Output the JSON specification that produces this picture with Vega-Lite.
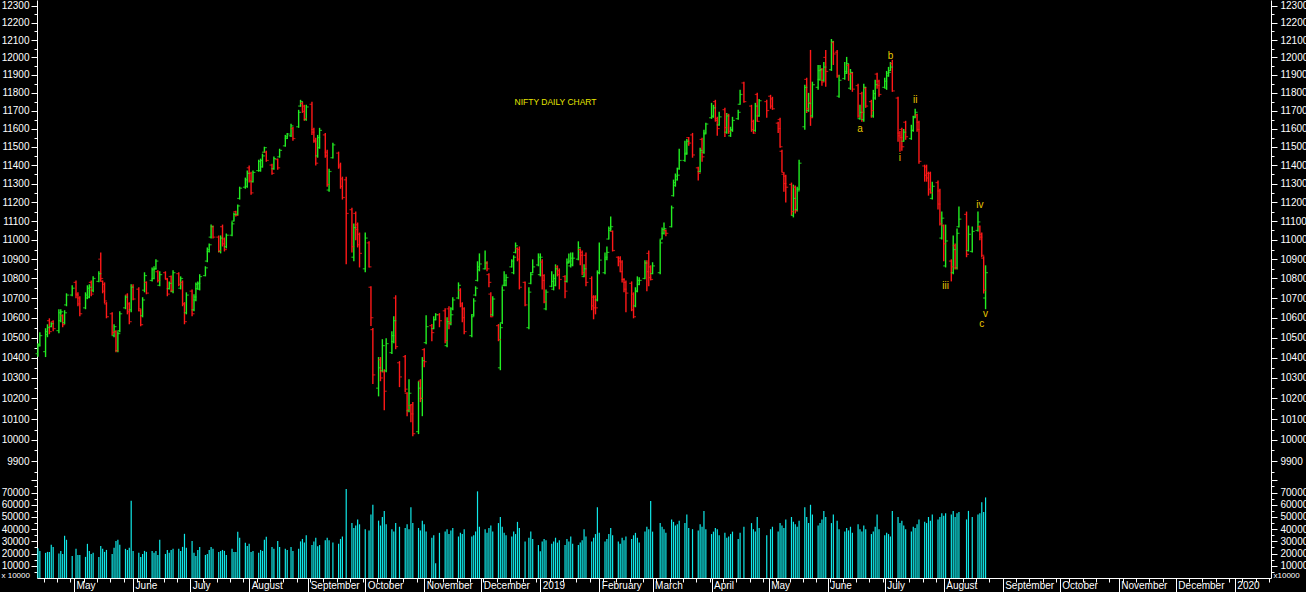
{
"$schema":"https://vega.github.io/schema/vega-lite/v6.json",
"background":"#000000",
"padding":{"left":1,"top":0,"right":0,"bottom":0},
"spacing":0,
"bounds":"flush",
"config":{"view":{"stroke":null},"font":"Liberation Sans","axis":{"labelFont":"Liberation Sans","labelFontSize":10,"labelColor":"#ffffff","domainColor":"#ffffff","tickColor":"#ffffff","grid":false,"labelOverlap":false,"labelFlush":false}},
"datasets":{
"px":[
{"d":"2018-04-12","o":10420,"h":10472,"l":10405,"c":10458,"v":24400},
{"d":"2018-04-13","o":10465,"h":10527,"l":10457,"c":10510,"v":22200},
{"d":"2018-04-16","o":10430,"h":10547,"l":10403,"c":10530,"v":20600},
{"d":"2018-04-17","o":10515,"h":10567,"l":10502,"c":10550,"v":21400},
{"d":"2018-04-18","o":10585,"h":10597,"l":10517,"c":10530,"v":21400},
{"d":"2018-04-19","o":10555,"h":10577,"l":10552,"c":10570,"v":27200},
{"d":"2018-04-20","o":10580,"h":10587,"l":10532,"c":10545,"v":25500},
{"d":"2018-04-23","o":10535,"h":10643,"l":10522,"c":10625,"v":20000},
{"d":"2018-04-24","o":10585,"h":10643,"l":10577,"c":10630,"v":22200},
{"d":"2018-04-25","o":10610,"h":10617,"l":10552,"c":10565,"v":19700},
{"d":"2018-04-26","o":10575,"h":10638,"l":10567,"c":10625,"v":34600},
{"d":"2018-04-27","o":10665,"h":10724,"l":10658,"c":10715,"v":31300},
{"d":"2018-04-30","o":10715,"h":10765,"l":10709,"c":10750,"v":18100},
{"d":"2018-05-02","o":10780,"h":10790,"l":10699,"c":10715,"v":23900},
{"d":"2018-05-03","o":10720,"h":10729,"l":10658,"c":10670,"v":18900},
{"d":"2018-05-04","o":10700,"h":10709,"l":10607,"c":10620,"v":18900},
{"d":"2018-05-07","o":10650,"h":10729,"l":10643,"c":10715,"v":17300},
{"d":"2018-05-08","o":10700,"h":10765,"l":10694,"c":10750,"v":28000},
{"d":"2018-05-09","o":10705,"h":10770,"l":10699,"c":10755,"v":22200},
{"d":"2018-05-10","o":10780,"h":10790,"l":10709,"c":10720,"v":19700},
{"d":"2018-05-11","o":10740,"h":10811,"l":10729,"c":10800,"v":20600},
{"d":"2018-05-14","o":10785,"h":10837,"l":10781,"c":10825,"v":17300},
{"d":"2018-05-15","o":10900,"h":10935,"l":10785,"c":10800,"v":26300},
{"d":"2018-05-16","o":10785,"h":10790,"l":10724,"c":10735,"v":23900},
{"d":"2018-05-17","o":10770,"h":10780,"l":10673,"c":10685,"v":21400},
{"d":"2018-05-18","o":10670,"h":10679,"l":10597,"c":10605,"v":23000},
{"d":"2018-05-21","o":10620,"h":10628,"l":10512,"c":10525,"v":19700},
{"d":"2018-05-22","o":10510,"h":10567,"l":10502,"c":10555,"v":24700},
{"d":"2018-05-23","o":10530,"h":10537,"l":10427,"c":10435,"v":30400},
{"d":"2018-05-24","o":10435,"h":10532,"l":10427,"c":10520,"v":31300},
{"d":"2018-05-25","o":10535,"h":10633,"l":10527,"c":10620,"v":27200},
{"d":"2018-05-28","o":10650,"h":10714,"l":10643,"c":10705,"v":23900},
{"d":"2018-05-29","o":10715,"h":10724,"l":10617,"c":10630,"v":23000},
{"d":"2018-05-30","o":10670,"h":10679,"l":10567,"c":10580,"v":24700},
{"d":"2018-05-31","o":10640,"h":10770,"l":10628,"c":10755,"v":63400},
{"d":"2018-06-01","o":10760,"h":10770,"l":10689,"c":10695,"v":22200},
{"d":"2018-06-04","o":10745,"h":10755,"l":10633,"c":10645,"v":20600},
{"d":"2018-06-05","o":10635,"h":10643,"l":10557,"c":10565,"v":17300},
{"d":"2018-06-06","o":10610,"h":10704,"l":10602,"c":10690,"v":19700},
{"d":"2018-06-07","o":10740,"h":10832,"l":10729,"c":10815,"v":22200},
{"d":"2018-06-08","o":10780,"h":10785,"l":10719,"c":10725,"v":21400},
{"d":"2018-06-11","o":10790,"h":10857,"l":10785,"c":10845,"v":22200},
{"d":"2018-06-12","o":10800,"h":10863,"l":10796,"c":10850,"v":20600},
{"d":"2018-06-13","o":10850,"h":10899,"l":10847,"c":10890,"v":22200},
{"d":"2018-06-14","o":10835,"h":10842,"l":10780,"c":10790,"v":18900},
{"d":"2018-06-15","o":10765,"h":10837,"l":10760,"c":10820,"v":31300},
{"d":"2018-06-18","o":10830,"h":10837,"l":10796,"c":10800,"v":19700},
{"d":"2018-06-19","o":10795,"h":10801,"l":10709,"c":10720,"v":23000},
{"d":"2018-06-20","o":10748,"h":10785,"l":10744,"c":10775,"v":20600},
{"d":"2018-06-21","o":10810,"h":10816,"l":10729,"c":10740,"v":23000},
{"d":"2018-06-22","o":10735,"h":10842,"l":10724,"c":10830,"v":23900},
{"d":"2018-06-25","o":10825,"h":10832,"l":10760,"c":10770,"v":23900},
{"d":"2018-06-26","o":10750,"h":10811,"l":10744,"c":10800,"v":22200},
{"d":"2018-06-27","o":10780,"h":10790,"l":10658,"c":10670,"v":25500},
{"d":"2018-06-28","o":10670,"h":10679,"l":10567,"c":10580,"v":36200},
{"d":"2018-06-29","o":10625,"h":10729,"l":10617,"c":10715,"v":24700},
{"d":"2018-07-02","o":10735,"h":10744,"l":10607,"c":10620,"v":30400},
{"d":"2018-07-03","o":10640,"h":10719,"l":10633,"c":10705,"v":20600},
{"d":"2018-07-04","o":10690,"h":10780,"l":10684,"c":10770,"v":18100},
{"d":"2018-07-05","o":10748,"h":10785,"l":10744,"c":10775,"v":23000},
{"d":"2018-07-06","o":10745,"h":10822,"l":10739,"c":10810,"v":25500},
{"d":"2018-07-09","o":10815,"h":10863,"l":10811,"c":10855,"v":18900},
{"d":"2018-07-10","o":10890,"h":10961,"l":10884,"c":10950,"v":19700},
{"d":"2018-07-11","o":10940,"h":10982,"l":10935,"c":10975,"v":23000},
{"d":"2018-07-12","o":11015,"h":11081,"l":11008,"c":11070,"v":25500},
{"d":"2018-07-13","o":11070,"h":11076,"l":11008,"c":11015,"v":23900},
{"d":"2018-07-16","o":11015,"h":11024,"l":10935,"c":10945,"v":21400},
{"d":"2018-07-17","o":10940,"h":11024,"l":10930,"c":11010,"v":22200},
{"d":"2018-07-18","o":11070,"h":11081,"l":10966,"c":10980,"v":23000},
{"d":"2018-07-19","o":11005,"h":11013,"l":10940,"c":10950,"v":22200},
{"d":"2018-07-20","o":10965,"h":11034,"l":10956,"c":11025,"v":18900},
{"d":"2018-07-23","o":11025,"h":11097,"l":11019,"c":11085,"v":23900},
{"d":"2018-07-24","o":11100,"h":11145,"l":11097,"c":11135,"v":21400},
{"d":"2018-07-25","o":11150,"h":11155,"l":11124,"c":11130,"v":21400},
{"d":"2018-07-26","o":11135,"h":11187,"l":11129,"c":11180,"v":37900},
{"d":"2018-07-27","o":11220,"h":11283,"l":11214,"c":11275,"v":32900},
{"d":"2018-07-30","o":11280,"h":11332,"l":11272,"c":11320,"v":28800},
{"d":"2018-07-31","o":11285,"h":11370,"l":11278,"c":11355,"v":26300},
{"d":"2018-08-01","o":11385,"h":11397,"l":11305,"c":11315,"v":28000},
{"d":"2018-08-02","o":11355,"h":11364,"l":11240,"c":11250,"v":21400},
{"d":"2018-08-03","o":11310,"h":11370,"l":11305,"c":11360,"v":22200},
{"d":"2018-08-06","o":11370,"h":11429,"l":11364,"c":11420,"v":20600},
{"d":"2018-08-07","o":11370,"h":11435,"l":11364,"c":11425,"v":23000},
{"d":"2018-08-08","o":11390,"h":11462,"l":11386,"c":11450,"v":22200},
{"d":"2018-08-09","o":11470,"h":11500,"l":11467,"c":11495,"v":31300},
{"d":"2018-08-10","o":11470,"h":11478,"l":11418,"c":11425,"v":33700},
{"d":"2018-08-13","o":11400,"h":11407,"l":11348,"c":11355,"v":25500},
{"d":"2018-08-14","o":11380,"h":11446,"l":11375,"c":11435,"v":23900},
{"d":"2018-08-16","o":11430,"h":11435,"l":11375,"c":11385,"v":30400},
{"d":"2018-08-17","o":11445,"h":11489,"l":11440,"c":11480,"v":25500},
{"d":"2018-08-20","o":11505,"h":11565,"l":11500,"c":11555,"v":23900},
{"d":"2018-08-21","o":11545,"h":11576,"l":11543,"c":11570,"v":23000},
{"d":"2018-08-23","o":11560,"h":11627,"l":11554,"c":11615,"v":25500},
{"d":"2018-08-24","o":11600,"h":11610,"l":11533,"c":11545,"v":22200},
{"d":"2018-08-27","o":11610,"h":11704,"l":11604,"c":11690,"v":24000},
{"d":"2018-08-28","o":11725,"h":11760,"l":11721,"c":11750,"v":30000},
{"d":"2018-08-29","o":11740,"h":11749,"l":11687,"c":11695,"v":32000},
{"d":"2018-08-30","o":11725,"h":11732,"l":11643,"c":11655,"v":29000},
{"d":"2018-08-31","o":11650,"h":11732,"l":11643,"c":11720,"v":35000},
{"d":"2018-09-03","o":11735,"h":11749,"l":11565,"c":11580,"v":27000},
{"d":"2018-09-04","o":11595,"h":11604,"l":11522,"c":11530,"v":30000},
{"d":"2018-09-05","o":11535,"h":11549,"l":11397,"c":11410,"v":33000},
{"d":"2018-09-06","o":11450,"h":11565,"l":11440,"c":11550,"v":26000},
{"d":"2018-09-07","o":11495,"h":11604,"l":11489,"c":11590,"v":27000},
{"d":"2018-09-10","o":11565,"h":11576,"l":11440,"c":11450,"v":31000},
{"d":"2018-09-11","o":11470,"h":11484,"l":11283,"c":11295,"v":33000},
{"d":"2018-09-12","o":11265,"h":11380,"l":11256,"c":11365,"v":31000},
{"d":"2018-09-14","o":11440,"h":11522,"l":11435,"c":11510,"v":29000},
{"d":"2018-09-17","o":11465,"h":11473,"l":11380,"c":11390,"v":28000},
{"d":"2018-09-18","o":11400,"h":11413,"l":11272,"c":11285,"v":32000},
{"d":"2018-09-19","o":11325,"h":11337,"l":11214,"c":11225,"v":34000},
{"d":"2018-09-21","o":11320,"h":11337,"l":10873,"c":11140,"v":73000},
{"d":"2018-09-24","o":11160,"h":11171,"l":10935,"c":10965,"v":45000},
{"d":"2018-09-25","o":10910,"h":11087,"l":10889,"c":11065,"v":41000},
{"d":"2018-09-26","o":11140,"h":11150,"l":10998,"c":11055,"v":43000},
{"d":"2018-09-27","o":11080,"h":11092,"l":10961,"c":10975,"v":48000},
{"d":"2018-09-28","o":11030,"h":11039,"l":10857,"c":10930,"v":44000},
{"d":"2018-10-01","o":10850,"h":11039,"l":10832,"c":11010,"v":40000},
{"d":"2018-10-03","o":10985,"h":10993,"l":10857,"c":10860,"v":39000},
{"d":"2018-10-04","o":10755,"h":10760,"l":10558,"c":10600,"v":52000},
{"d":"2018-10-05","o":10540,"h":10548,"l":10270,"c":10315,"v":60000},
{"d":"2018-10-08","o":10250,"h":10403,"l":10210,"c":10350,"v":47000},
{"d":"2018-10-09","o":10390,"h":10403,"l":10284,"c":10300,"v":43000},
{"d":"2018-10-10","o":10335,"h":10492,"l":10328,"c":10460,"v":50000},
{"d":"2018-10-11","o":10330,"h":10343,"l":10143,"c":10235,"v":55000},
{"d":"2018-10-12","o":10335,"h":10497,"l":10328,"c":10470,"v":44000},
{"d":"2018-10-15","o":10425,"h":10532,"l":10418,"c":10510,"v":40000},
{"d":"2018-10-16","o":10480,"h":10607,"l":10472,"c":10585,"v":38000},
{"d":"2018-10-17","o":10700,"h":10714,"l":10442,"c":10455,"v":45000},
{"d":"2018-10-19","o":10375,"h":10383,"l":10255,"c":10305,"v":42000},
{"d":"2018-10-22","o":10405,"h":10413,"l":10230,"c":10245,"v":41000},
{"d":"2018-10-23","o":10225,"h":10230,"l":10114,"c":10145,"v":44000},
{"d":"2018-10-24","o":10140,"h":10294,"l":10133,"c":10225,"v":40000},
{"d":"2018-10-25","o":10165,"h":10172,"l":10085,"c":10125,"v":58000},
{"d":"2018-10-26","o":10170,"h":10182,"l":10018,"c":10030,"v":45000},
{"d":"2018-10-29","o":10040,"h":10284,"l":10028,"c":10250,"v":41000},
{"d":"2018-10-30","o":10285,"h":10294,"l":10182,"c":10200,"v":39000},
{"d":"2018-10-31","o":10200,"h":10403,"l":10114,"c":10385,"v":47000},
{"d":"2018-11-01","o":10440,"h":10447,"l":10353,"c":10380,"v":44000},
{"d":"2018-11-02","o":10475,"h":10612,"l":10467,"c":10555,"v":38000},
{"d":"2018-11-05","o":10560,"h":10568,"l":10482,"c":10525,"v":33000},
{"d":"2018-11-06","o":10545,"h":10607,"l":10542,"c":10590,"v":35000},
{"d":"2018-11-07","o":10590,"h":10623,"l":10587,"c":10615,"v":12000},
{"d":"2018-11-09","o":10615,"h":10623,"l":10552,"c":10585,"v":37000},
{"d":"2018-11-12","o":10635,"h":10648,"l":10472,"c":10485,"v":38000},
{"d":"2018-11-13","o":10460,"h":10602,"l":10452,"c":10580,"v":40000},
{"d":"2018-11-14","o":10645,"h":10658,"l":10542,"c":10575,"v":36000},
{"d":"2018-11-15","o":10570,"h":10653,"l":10562,"c":10615,"v":39000},
{"d":"2018-11-16","o":10645,"h":10704,"l":10638,"c":10690,"v":41000},
{"d":"2018-11-19","o":10700,"h":10780,"l":10694,"c":10765,"v":34000},
{"d":"2018-11-20","o":10740,"h":10750,"l":10653,"c":10660,"v":37000},
{"d":"2018-11-21","o":10670,"h":10679,"l":10577,"c":10600,"v":36000},
{"d":"2018-11-22","o":10645,"h":10653,"l":10517,"c":10530,"v":40000},
{"d":"2018-11-26","o":10510,"h":10617,"l":10502,"c":10605,"v":34000},
{"d":"2018-11-27","o":10615,"h":10699,"l":10607,"c":10685,"v":35000},
{"d":"2018-11-28","o":10715,"h":10760,"l":10709,"c":10750,"v":38000},
{"d":"2018-11-29","o":10790,"h":10889,"l":10785,"c":10860,"v":71000},
{"d":"2018-11-30","o":10845,"h":10930,"l":10837,"c":10875,"v":42000},
{"d":"2018-12-03","o":10850,"h":10945,"l":10847,"c":10880,"v":40000},
{"d":"2018-12-04","o":10880,"h":10889,"l":10837,"c":10850,"v":37000},
{"d":"2018-12-05","o":10820,"h":10827,"l":10755,"c":10780,"v":41000},
{"d":"2018-12-06","o":10720,"h":10729,"l":10602,"c":10605,"v":43000},
{"d":"2018-12-07","o":10615,"h":10709,"l":10607,"c":10695,"v":38000},
{"d":"2018-12-10","o":10560,"h":10568,"l":10482,"c":10490,"v":45000},
{"d":"2018-12-11","o":10350,"h":10572,"l":10338,"c":10550,"v":50000},
{"d":"2018-12-12","o":10575,"h":10760,"l":10568,"c":10740,"v":42000},
{"d":"2018-12-13","o":10765,"h":10837,"l":10760,"c":10790,"v":37000},
{"d":"2018-12-14","o":10765,"h":10822,"l":10760,"c":10805,"v":35000},
{"d":"2018-12-17","o":10860,"h":10899,"l":10857,"c":10890,"v":34000},
{"d":"2018-12-18","o":10830,"h":10920,"l":10822,"c":10910,"v":38000},
{"d":"2018-12-19","o":10935,"h":10987,"l":10930,"c":10970,"v":36000},
{"d":"2018-12-20","o":10955,"h":10961,"l":10889,"c":10900,"v":46000},
{"d":"2018-12-21","o":10950,"h":10966,"l":10744,"c":10755,"v":41000},
{"d":"2018-12-24","o":10780,"h":10785,"l":10658,"c":10665,"v":30000},
{"d":"2018-12-26","o":10550,"h":10755,"l":10542,"c":10730,"v":33000},
{"d":"2018-12-27","o":10775,"h":10832,"l":10770,"c":10820,"v":38000},
{"d":"2018-12-28","o":10830,"h":10899,"l":10827,"c":10860,"v":32000},
{"d":"2018-12-31","o":10870,"h":10930,"l":10863,"c":10910,"v":27000},
{"d":"2019-01-01","o":10820,"h":10930,"l":10811,"c":10910,"v":22000},
{"d":"2019-01-02","o":10885,"h":10899,"l":10744,"c":10790,"v":30000},
{"d":"2019-01-03","o":10815,"h":10822,"l":10673,"c":10680,"v":32000},
{"d":"2019-01-04","o":10645,"h":10744,"l":10638,"c":10730,"v":31000},
{"d":"2019-01-07","o":10760,"h":10837,"l":10755,"c":10785,"v":28000},
{"d":"2019-01-08","o":10745,"h":10822,"l":10739,"c":10800,"v":30000},
{"d":"2019-01-09","o":10765,"h":10873,"l":10760,"c":10850,"v":33000},
{"d":"2019-01-10","o":10860,"h":10868,"l":10811,"c":10820,"v":29000},
{"d":"2019-01-11","o":10840,"h":10852,"l":10744,"c":10795,"v":31000},
{"d":"2019-01-14","o":10810,"h":10817,"l":10699,"c":10735,"v":27000},
{"d":"2019-01-15","o":10785,"h":10904,"l":10780,"c":10885,"v":32000},
{"d":"2019-01-16","o":10880,"h":10930,"l":10878,"c":10890,"v":30000},
{"d":"2019-01-17","o":10865,"h":10935,"l":10857,"c":10905,"v":34000},
{"d":"2019-01-18","o":10870,"h":10935,"l":10863,"c":10905,"v":28000},
{"d":"2019-01-21","o":10900,"h":10993,"l":10894,"c":10960,"v":27000},
{"d":"2019-01-22","o":10950,"h":10956,"l":10868,"c":10920,"v":29000},
{"d":"2019-01-23","o":10935,"h":10945,"l":10817,"c":10830,"v":31000},
{"d":"2019-01-24","o":10810,"h":10873,"l":10806,"c":10850,"v":40000},
{"d":"2019-01-25","o":10920,"h":10935,"l":10760,"c":10780,"v":34000},
{"d":"2019-01-28","o":10800,"h":10811,"l":10638,"c":10660,"v":30000},
{"d":"2019-01-29","o":10705,"h":10714,"l":10592,"c":10650,"v":33000},
{"d":"2019-01-30","o":10705,"h":10714,"l":10617,"c":10650,"v":36000},
{"d":"2019-01-31","o":10690,"h":10842,"l":10683,"c":10830,"v":58000},
{"d":"2019-02-01","o":10830,"h":10987,"l":10822,"c":10895,"v":37000},
{"d":"2019-02-04","o":10830,"h":10935,"l":10822,"c":10910,"v":30000},
{"d":"2019-02-05","o":10900,"h":10966,"l":10894,"c":10935,"v":32000},
{"d":"2019-02-06","o":11005,"h":11071,"l":11003,"c":11060,"v":36000},
{"d":"2019-02-07","o":11050,"h":11124,"l":11045,"c":11070,"v":41000},
{"d":"2019-02-08","o":11045,"h":11050,"l":10940,"c":10945,"v":35000},
{"d":"2019-02-11","o":10910,"h":10915,"l":10863,"c":10890,"v":30000},
{"d":"2019-02-12","o":10905,"h":10915,"l":10832,"c":10835,"v":28000},
{"d":"2019-02-13","o":10885,"h":10894,"l":10780,"c":10795,"v":33000},
{"d":"2019-02-14","o":10795,"h":10801,"l":10729,"c":10745,"v":31000},
{"d":"2019-02-15","o":10780,"h":10790,"l":10628,"c":10725,"v":34000},
{"d":"2019-02-18","o":10775,"h":10785,"l":10633,"c":10640,"v":32000},
{"d":"2019-02-19","o":10720,"h":10729,"l":10597,"c":10605,"v":35000},
{"d":"2019-02-20","o":10660,"h":10755,"l":10653,"c":10735,"v":37000},
{"d":"2019-02-21","o":10735,"h":10811,"l":10729,"c":10790,"v":33000},
{"d":"2019-02-22","o":10770,"h":10806,"l":10765,"c":10790,"v":29000},
{"d":"2019-02-25","o":10800,"h":10894,"l":10796,"c":10880,"v":38000},
{"d":"2019-02-26","o":10880,"h":10894,"l":10734,"c":10835,"v":42000},
{"d":"2019-02-27","o":10930,"h":10945,"l":10760,"c":10805,"v":40000},
{"d":"2019-02-28","o":10860,"h":10868,"l":10790,"c":10795,"v":63000},
{"d":"2019-03-01","o":10825,"h":10884,"l":10822,"c":10865,"v":38000},
{"d":"2019-03-05","o":10830,"h":11003,"l":10822,"c":10985,"v":45000},
{"d":"2019-03-06","o":11005,"h":11066,"l":11003,"c":11055,"v":42000},
{"d":"2019-03-07","o":11035,"h":11092,"l":11029,"c":11060,"v":40000},
{"d":"2019-03-08","o":11050,"h":11055,"l":11019,"c":11035,"v":37000},
{"d":"2019-03-11","o":11070,"h":11182,"l":11066,"c":11170,"v":48000},
{"d":"2019-03-12","o":11235,"h":11321,"l":11230,"c":11305,"v":46000},
{"d":"2019-03-13","o":11290,"h":11354,"l":11283,"c":11340,"v":43000},
{"d":"2019-03-14","o":11320,"h":11386,"l":11316,"c":11345,"v":44000},
{"d":"2019-03-15","o":11380,"h":11489,"l":11375,"c":11425,"v":47000},
{"d":"2019-03-18","o":11425,"h":11533,"l":11418,"c":11465,"v":45000},
{"d":"2019-03-19","o":11460,"h":11543,"l":11456,"c":11530,"v":52000},
{"d":"2019-03-20","o":11550,"h":11554,"l":11505,"c":11520,"v":41000},
{"d":"2019-03-22","o":11565,"h":11576,"l":11440,"c":11455,"v":40000},
{"d":"2019-03-25","o":11385,"h":11391,"l":11316,"c":11355,"v":39000},
{"d":"2019-03-26","o":11365,"h":11494,"l":11359,"c":11480,"v":44000},
{"d":"2019-03-27","o":11540,"h":11549,"l":11418,"c":11445,"v":42000},
{"d":"2019-03-28","o":11470,"h":11593,"l":11462,"c":11570,"v":55000},
{"d":"2019-03-29","o":11575,"h":11632,"l":11571,"c":11625,"v":40000},
{"d":"2019-04-01","o":11660,"h":11743,"l":11654,"c":11670,"v":36000},
{"d":"2019-04-02","o":11665,"h":11732,"l":11660,"c":11715,"v":38000},
{"d":"2019-04-03","o":11750,"h":11760,"l":11638,"c":11645,"v":41000},
{"d":"2019-04-04","o":11655,"h":11665,"l":11560,"c":11600,"v":40000},
{"d":"2019-04-05","o":11620,"h":11693,"l":11615,"c":11665,"v":35000},
{"d":"2019-04-08","o":11705,"h":11715,"l":11554,"c":11605,"v":37000},
{"d":"2019-04-09","o":11580,"h":11687,"l":11571,"c":11670,"v":33000},
{"d":"2019-04-10","o":11675,"h":11682,"l":11571,"c":11585,"v":34000},
{"d":"2019-04-11","o":11560,"h":11610,"l":11554,"c":11595,"v":36000},
{"d":"2019-04-12","o":11590,"h":11665,"l":11582,"c":11645,"v":38000},
{"d":"2019-04-15","o":11655,"h":11704,"l":11649,"c":11690,"v":32000},
{"d":"2019-04-16","o":11735,"h":11816,"l":11732,"c":11790,"v":37000},
{"d":"2019-04-18","o":11855,"h":11862,"l":11743,"c":11750,"v":42000},
{"d":"2019-04-22","o":11725,"h":11732,"l":11582,"c":11595,"v":45000},
{"d":"2019-04-23","o":11640,"h":11649,"l":11571,"c":11575,"v":40000},
{"d":"2019-04-24","o":11590,"h":11743,"l":11582,"c":11725,"v":38000},
{"d":"2019-04-25","o":11790,"h":11799,"l":11638,"c":11640,"v":50000},
{"d":"2019-04-26","o":11670,"h":11765,"l":11665,"c":11755,"v":41000},
{"d":"2019-04-30","o":11750,"h":11760,"l":11660,"c":11700,"v":35000},
{"d":"2019-05-02","o":11780,"h":11788,"l":11710,"c":11725,"v":40000},
{"d":"2019-05-03","o":11765,"h":11777,"l":11704,"c":11710,"v":42000},
{"d":"2019-05-06","o":11630,"h":11638,"l":11576,"c":11600,"v":38000},
{"d":"2019-05-07","o":11650,"h":11660,"l":11494,"c":11500,"v":45000},
{"d":"2019-05-08","o":11475,"h":11484,"l":11359,"c":11360,"v":43000},
{"d":"2019-05-09","o":11350,"h":11359,"l":11256,"c":11300,"v":41000},
{"d":"2019-05-10","o":11340,"h":11348,"l":11198,"c":11280,"v":48000},
{"d":"2019-05-13","o":11295,"h":11305,"l":11129,"c":11150,"v":50000},
{"d":"2019-05-14","o":11130,"h":11294,"l":11119,"c":11220,"v":46000},
{"d":"2019-05-15","o":11280,"h":11289,"l":11140,"c":11155,"v":44000},
{"d":"2019-05-16","o":11160,"h":11283,"l":11150,"c":11260,"v":42000},
{"d":"2019-05-17","o":11270,"h":11429,"l":11262,"c":11410,"v":47000},
{"d":"2019-05-20","o":11610,"h":11845,"l":11593,"c":11830,"v":58000},
{"d":"2019-05-21","o":11875,"h":11884,"l":11687,"c":11710,"v":50000},
{"d":"2019-05-22","o":11700,"h":11799,"l":11693,"c":11740,"v":45000},
{"d":"2019-05-23","o":11745,"h":12043,"l":11615,"c":11660,"v":60000},
{"d":"2019-05-24","o":11670,"h":11862,"l":11660,"c":11845,"v":52000},
{"d":"2019-05-27","o":11830,"h":11957,"l":11816,"c":11925,"v":43000},
{"d":"2019-05-28","o":11875,"h":11957,"l":11867,"c":11930,"v":45000},
{"d":"2019-05-29","o":11930,"h":11940,"l":11839,"c":11860,"v":48000},
{"d":"2019-05-30","o":11870,"h":11974,"l":11862,"c":11945,"v":55000},
{"d":"2019-05-31","o":12000,"h":12043,"l":11833,"c":11920,"v":50000},
{"d":"2019-06-03","o":11930,"h":12106,"l":11923,"c":12090,"v":45000},
{"d":"2019-06-04","o":12085,"h":12095,"l":11957,"c":12020,"v":52000},
{"d":"2019-06-06","o":12030,"h":12043,"l":11884,"c":11895,"v":47000},
{"d":"2019-06-07","o":11780,"h":11901,"l":11771,"c":11870,"v":40000},
{"d":"2019-06-10","o":11880,"h":11974,"l":11873,"c":11920,"v":38000},
{"d":"2019-06-11","o":11910,"h":12003,"l":11906,"c":11965,"v":41000},
{"d":"2019-06-12","o":11955,"h":11963,"l":11867,"c":11905,"v":39000},
{"d":"2019-06-13","o":11825,"h":11934,"l":11816,"c":11915,"v":42000},
{"d":"2019-06-14","o":11910,"h":11917,"l":11805,"c":11820,"v":37000},
{"d":"2019-06-17","o":11840,"h":11850,"l":11660,"c":11670,"v":44000},
{"d":"2019-06-18","o":11655,"h":11732,"l":11649,"c":11690,"v":40000},
{"d":"2019-06-19","o":11795,"h":11805,"l":11638,"c":11690,"v":38000},
{"d":"2019-06-20","o":11650,"h":11850,"l":11638,"c":11830,"v":43000},
{"d":"2019-06-21","o":11825,"h":11833,"l":11715,"c":11725,"v":40000},
{"d":"2019-06-24","o":11750,"h":11760,"l":11660,"c":11700,"v":36000},
{"d":"2019-06-25","o":11670,"h":11816,"l":11660,"c":11795,"v":38000},
{"d":"2019-06-26","o":11770,"h":11873,"l":11760,"c":11845,"v":42000},
{"d":"2019-06-27","o":11905,"h":11912,"l":11822,"c":11840,"v":52000},
{"d":"2019-06-28","o":11865,"h":11873,"l":11777,"c":11790,"v":40000},
{"d":"2019-07-01","o":11830,"h":11884,"l":11827,"c":11865,"v":35000},
{"d":"2019-07-02","o":11825,"h":11923,"l":11816,"c":11910,"v":37000},
{"d":"2019-07-03","o":11895,"h":11946,"l":11890,"c":11915,"v":36000},
{"d":"2019-07-04","o":11925,"h":11974,"l":11923,"c":11945,"v":34000},
{"d":"2019-07-05","o":11965,"h":11986,"l":11805,"c":11810,"v":55000},
{"d":"2019-07-08","o":11770,"h":11777,"l":11527,"c":11560,"v":50000},
{"d":"2019-07-09","o":11575,"h":11587,"l":11473,"c":11550,"v":45000},
{"d":"2019-07-10","o":11595,"h":11604,"l":11478,"c":11500,"v":47000},
{"d":"2019-07-11","o":11530,"h":11598,"l":11527,"c":11580,"v":43000},
{"d":"2019-07-12","o":11635,"h":11643,"l":11538,"c":11555,"v":40000},
{"d":"2019-07-15","o":11545,"h":11621,"l":11538,"c":11590,"v":38000},
{"d":"2019-07-16","o":11590,"h":11671,"l":11582,"c":11660,"v":42000},
{"d":"2019-07-17","o":11665,"h":11710,"l":11660,"c":11690,"v":41000},
{"d":"2019-07-18","o":11675,"h":11682,"l":11582,"c":11595,"v":44000},
{"d":"2019-07-19","o":11635,"h":11643,"l":11407,"c":11420,"v":48000},
{"d":"2019-07-22","o":11395,"h":11402,"l":11310,"c":11345,"v":46000},
{"d":"2019-07-23","o":11390,"h":11402,"l":11310,"c":11330,"v":45000},
{"d":"2019-07-24","o":11355,"h":11364,"l":11235,"c":11270,"v":50000},
{"d":"2019-07-25","o":11355,"h":11364,"l":11246,"c":11250,"v":47000},
{"d":"2019-07-26","o":11220,"h":11310,"l":11214,"c":11285,"v":52000},
{"d":"2019-07-29","o":11305,"h":11316,"l":11161,"c":11190,"v":48000},
{"d":"2019-07-30","o":11260,"h":11272,"l":11076,"c":11085,"v":50000},
{"d":"2019-07-31","o":11010,"h":11150,"l":11003,"c":11115,"v":53000},
{"d":"2019-08-01","o":11075,"h":11081,"l":10889,"c":10980,"v":51000},
{"d":"2019-08-02","o":10865,"h":11081,"l":10857,"c":10995,"v":53000},
{"d":"2019-08-05","o":10890,"h":10899,"l":10785,"c":10860,"v":52000},
{"d":"2019-08-06","o":10830,"h":11024,"l":10822,"c":10950,"v":55000},
{"d":"2019-08-07","o":10970,"h":10982,"l":10847,"c":10855,"v":50000},
{"d":"2019-08-08","o":10855,"h":11060,"l":10847,"c":11035,"v":53000},
{"d":"2019-08-09","o":11070,"h":11177,"l":11066,"c":11110,"v":54000},
{"d":"2019-08-13","o":11135,"h":11150,"l":10910,"c":10925,"v":48000},
{"d":"2019-08-14","o":10945,"h":11076,"l":10940,"c":11030,"v":55000},
{"d":"2019-08-16","o":10940,"h":11071,"l":10935,"c":11045,"v":50000},
{"d":"2019-08-19","o":11050,"h":11150,"l":11045,"c":11095,"v":52000},
{"d":"2019-08-20","o":11070,"h":11076,"l":10998,"c":11015,"v":53000},
{"d":"2019-08-21","o":11030,"h":11039,"l":10910,"c":10920,"v":62000},
{"d":"2019-08-22","o":10905,"h":10915,"l":10723,"c":10740,"v":54000},
{"d":"2019-08-23","o":10700,"h":10868,"l":10643,"c":10830,"v":66000}
],
"waves":[
{"d":"2019-06-18","p":11598,"t":"a"},
{"d":"2019-07-04","p":12009,"t":"b"},
{"d":"2019-07-09","p":11441,"t":"i"},
{"d":"2019-07-17","p":11758,"t":"ii"},
{"d":"2019-08-02","p":10761,"t":"iii"},
{"d":"2019-08-20","p":11187,"t":"iv"},
{"d":"2019-08-23","p":10621,"t":"v"},
{"d":"2019-08-21","p":10570,"t":"c"}
],
"note":[{"d":"2019-01-09","p":11750,"t":"NIFTY DAILY CHART"}]
},
"vconcat":[
{
"width":1234,"height":480,
"data":{"name":"px"},
"layer":[
{"mark":{"type":"rule","strokeWidth":1.4},
"encoding":{
"x":{"field":"d","type":"temporal","scale":{"type":"utc","domain":[{"year":2018,"month":4,"date":11,"hours":12,"utc":true},{"year":2020,"month":1,"date":20,"utc":true}]},"axis":null},
"y":{"field":"l","type":"quantitative","scale":{"type":"log","domain":[9811,12333],"nice":false},
"axis":{"orient":"left","title":null,"values":[9850,9900,9950,10000,10050,10100,10150,10200,10250,10300,10350,10400,10450,10500,10550,10600,10650,10700,10750,10800,10850,10900,10950,11000,11050,11100,11150,11200,11250,11300,11350,11400,11450,11500,11550,11600,11650,11700,11750,11800,11850,11900,11950,12000,12050,12100,12150,12200,12250,12300],
"labelExpr":"datum.value % 100 == 0 ? format(datum.value, 'd') : ''",
"tickSize":{"condition":{"test":"datum.value % 100 == 0","value":6},"value":3},"labelPadding":2}},
"y2":{"field":"h"},
"color":{"condition":{"test":"datum.c >= datum.o","value":"#22ee22"},"value":"#ff1818"}}},
{"mark":{"type":"tick","orient":"horizontal","size":2.5,"thickness":1.2,"xOffset":-1.2},
"encoding":{
"x":{"field":"d","type":"temporal","axis":null},
"y":{"field":"o","type":"quantitative","axis":null},
"color":{"condition":{"test":"datum.c >= datum.o","value":"#22ee22"},"value":"#ff1818"}}},
{"mark":{"type":"tick","orient":"horizontal","size":2.5,"thickness":1.2,"xOffset":1.2},
"encoding":{
"x":{"field":"d","type":"temporal","axis":null},
"y":{"field":"c","type":"quantitative",
"axis":{"orient":"right","title":null,"values":[9850,9900,9950,10000,10050,10100,10150,10200,10250,10300,10350,10400,10450,10500,10550,10600,10650,10700,10750,10800,10850,10900,10950,11000,11050,11100,11150,11200,11250,11300,11350,11400,11450,11500,11550,11600,11650,11700,11750,11800,11850,11900,11950,12000,12050,12100,12150,12200,12250,12300],
"labelExpr":"datum.value % 100 == 0 ? format(datum.value, 'd') : ''",
"tickSize":{"condition":{"test":"datum.value % 100 == 0","value":6},"value":3},"labelPadding":3}},
"color":{"condition":{"test":"datum.c >= datum.o","value":"#22ee22"},"value":"#ff1818"}}},
{"data":{"name":"waves"},
"mark":{"type":"text","fontSize":10,"color":"#e8c800","font":"Liberation Sans"},
"encoding":{
"x":{"field":"d","type":"temporal","axis":null},
"y":{"field":"p","type":"quantitative","axis":null},
"text":{"field":"t"}}},
{"data":{"name":"note"},
"mark":{"type":"text","fontSize":8.5,"color":"#e6e600","font":"Liberation Sans"},
"encoding":{
"x":{"field":"d","type":"temporal","axis":null},
"y":{"field":"p","type":"quantitative","axis":null},
"text":{"field":"t"}}}
],
"resolve":{"axis":{"y":"independent"}}
},
{
"width":1234,"height":98,
"data":{"name":"px"},
"layer":[
{"mark":{"type":"rule","color":"#10e8e8","strokeWidth":1.2},
"encoding":{
"x":{"field":"d","type":"temporal","scale":{"type":"utc","domain":[{"year":2018,"month":4,"date":11,"hours":12,"utc":true},{"year":2020,"month":1,"date":20,"utc":true}]},
"axis":{"orient":"bottom","title":null,"tickCount":{"interval":"month","step":1},"tickSize":14,"labelAlign":"left","labelBaseline":"top","labelPadding":-12,"labelOffset":2,
"labelExpr":"utcmonth(datum.value) == 0 ? utcFormat(datum.value, '%Y') : utcFormat(datum.value, '%B')"}},
"y":{"field":"v","type":"quantitative","scale":{"domain":[0,80300],"nice":false},
"axis":{"orient":"left","values":[5000,10000,15000,20000,25000,30000,35000,40000,45000,50000,55000,60000,65000,70000,75000,80000],
"labelExpr":"datum.value % 10000 == 0 && datum.value <= 70000 ? format(datum.value, 'd') : ''",
"tickSize":{"condition":{"test":"datum.value % 10000 == 0","value":6},"value":3},"labelPadding":2,
"title":"x 10000","titleAngle":0,"titleX":-36,"titleY":95,"titleAlign":"left","titleBaseline":"middle","titleFontSize":8,"titleFontWeight":"normal","titleColor":"#ffffff","titleFont":"Liberation Sans"}},
"y2":{"datum":0}}},
{"mark":{"type":"rule","opacity":0},
"encoding":{
"x":{"field":"d","type":"temporal","axis":{"orient":"bottom","title":null,"tickCount":{"interval":"week","step":1},"tickSize":4,"labels":false,"domain":false}},
"y":{"field":"v","type":"quantitative",
"axis":{"orient":"right","values":[5000,10000,15000,20000,25000,30000,35000,40000,45000,50000,55000,60000,65000,70000,75000,80000],
"labelExpr":"datum.value % 10000 == 0 && datum.value <= 70000 ? format(datum.value, 'd') : ''",
"tickSize":{"condition":{"test":"datum.value % 10000 == 0","value":6},"value":3},"labelPadding":3,
"title":"x10000","titleAngle":0,"titleX":2,"titleY":95,"titleAlign":"left","titleBaseline":"middle","titleFontSize":8,"titleFontWeight":"normal","titleColor":"#ffffff","titleFont":"Liberation Sans"}},
"y2":{"datum":0}}}
],
"resolve":{"axis":{"x":"independent","y":"independent"}}
}
]
}
